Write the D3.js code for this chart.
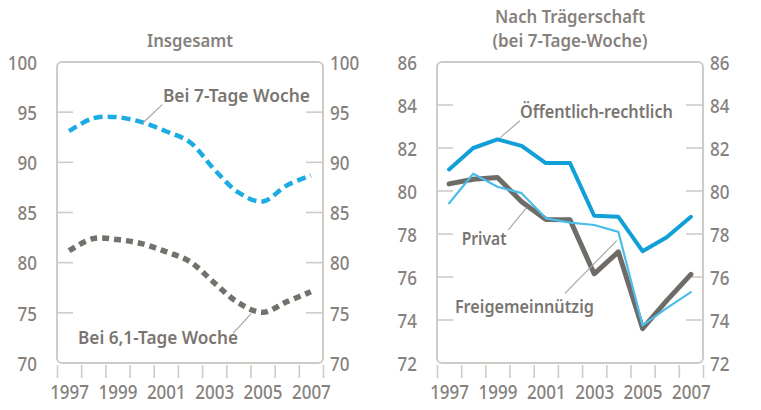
<!DOCTYPE html>
<html>
<head>
<meta charset="utf-8">
<script src="https://cdn.jsdelivr.net/npm/d3@7"></script>
<style>
  html, body { margin: 0; padding: 0; background: #fff; }
  svg { display: block; }
  text { font-family: "Noto Sans", "Open Sans", "DejaVu Sans", sans-serif; }
</style>
</head>
<body>
<svg id="chart" width="761" height="410"></svg>
<script>
// Years on the x axis
const years = [1997, 1998, 1999, 2000, 2001, 2002, 2003, 2004, 2005, 2006, 2007];
const yearLabels = [1997, 1999, 2001, 2003, 2005, 2007];

// Left panel: overall, two assumptions on working week
const totalSevenDay = [93.1, 94.4, 94.5, 94.0, 93.1, 92.0, 89.3, 87.0, 86.1, 87.7, 88.7];
const totalSixDay   = [81.2, 82.4, 82.3, 81.9, 81.1, 80.1, 78.0, 76.0, 75.05, 76.1, 77.1];
const leftTicks = [70, 75, 80, 85, 90, 95, 100];

// Right panel: by ownership (7-day week)
const publicOwned  = [81.0, 82.0, 82.4, 82.1, 81.3, 81.3, 78.85, 78.8, 77.2, 77.85, 78.8];
const privateOwned = [80.33, 80.55, 80.63, 79.5, 78.68, 78.66, 76.15, 77.17, 73.6, 74.9, 76.12];
const nonProfit    = [79.43, 80.8, 80.2, 79.9, 78.73, 78.53, 78.42, 78.1, 73.75, 74.55, 75.3];
const rightTicks = [72, 74, 76, 78, 80, 82, 84, 86];

const svg = d3.select("#chart");

const grey = "#86817d";
const frameGrey = "#cfcbc7";
const labelGrey = "#7a7571";
const squeeze = "scale(0.85,1)";   // narrow the tick numerals

const plotTop = 62, plotBottom = 363;

function panel(opts) {
  const g = svg.append("g");
  const x = d3.scaleLinear().domain([1996.5, 2007.5]).range([opts.left, opts.right]);
  const y = d3.scaleLinear().domain(opts.domain).range([plotBottom, plotTop]);

  // rounded frame
  g.append("rect")
    .attr("x", opts.left).attr("y", plotTop)
    .attr("width", opts.right - opts.left).attr("height", plotBottom - plotTop)
    .attr("rx", 5).attr("ry", 5)
    .attr("fill", "none").attr("stroke", frameGrey).attr("stroke-width", 2);

  // inner tick marks at both edges
  const inner = opts.ticks.slice(1, -1);
  g.selectAll(".tl").data(inner).join("line")
    .attr("x1", opts.left).attr("x2", opts.left + 16)
    .attr("y1", d => y(d)).attr("y2", d => y(d))
    .attr("stroke", frameGrey).attr("stroke-width", 1.6);
  g.selectAll(".tr").data(inner).join("line")
    .attr("x1", opts.right - 17).attr("x2", opts.right)
    .attr("y1", d => y(d)).attr("y2", d => y(d))
    .attr("stroke", frameGrey).attr("stroke-width", 1.6);

  // y labels on both sides
  const yl = g.append("g").attr("transform", `translate(${opts.left - 20},0)`)
    .call(d3.axisLeft(y).tickValues(opts.ticks).tickSize(0).tickPadding(0));
  const yr = g.append("g").attr("transform", `translate(${opts.right + 7},0)`)
    .call(d3.axisRight(y).tickValues(opts.ticks).tickSize(0).tickPadding(0));
  [yl, yr].forEach(a => {
    a.select(".domain").remove();
    a.selectAll("text").attr("fill", grey).attr("font-size", 20).attr("font-weight", 500)
      .attr("dy", "0.36em").attr("transform", squeeze);
  });

  // x tick marks at year boundaries
  const bounds = years.map(v => v - 0.5).concat([years[years.length - 1] + 0.5]);
  const xt = g.append("g").attr("transform", `translate(0,${plotBottom + 2})`)
    .call(d3.axisBottom(x).tickValues(bounds).tickSize(13).tickFormat(""));
  xt.select(".domain").remove();
  xt.selectAll("line").attr("stroke", frameGrey).attr("stroke-width", 1.6);

  // year labels
  const xl = g.append("g").attr("transform", `translate(0,${plotBottom + 22})`)
    .call(d3.axisBottom(x).tickValues(yearLabels).tickSize(0).tickPadding(0).tickFormat(d3.format("d")));
  xl.select(".domain").remove();
  xl.selectAll("text").attr("fill", grey).attr("font-size", 20).attr("font-weight", 500)
    .attr("dy", "0.71em").attr("transform", squeeze);

  // title
  const cx = (opts.left + opts.right) / 2;
  opts.title.forEach((line, i) => {
    g.append("text")
      .attr("x", cx).attr("y", opts.titleY + i * 24)
      .attr("text-anchor", "middle")
      .attr("fill", grey).attr("font-size", 17.5).attr("font-weight", 600)
      .attr("textLength", opts.titleWidths[i]).attr("lengthAdjust", "spacingAndGlyphs")
      .text(line);
  });

  return { g, x, y };
}

function series(p, values, style, curve) {
  const line = d3.line()
    .x((d, i) => p.x(years[i]))
    .y(d => p.y(d))
    .curve(curve);
  p.g.append("path")
    .datum(values)
    .attr("d", line)
    .attr("fill", "none")
    .attr("stroke", style.color)
    .attr("stroke-width", style.width)
    .attr("stroke-dasharray", style.dash || null)
    .attr("stroke-linejoin", "round")
    .attr("stroke-linecap", style.dash ? "butt" : "round");
}

function annotate(p, text, width, at, from, to) {
  p.g.append("line")
    .attr("x1", p.x(from[0])).attr("y1", p.y(from[1]))
    .attr("x2", p.x(to[0])).attr("y2", p.y(to[1]))
    .attr("stroke", "#aaa6a2").attr("stroke-width", 1.2);
  p.g.append("text")
    .attr("x", p.x(at[0])).attr("y", p.y(at[1]))
    .attr("fill", labelGrey).attr("font-size", 18).attr("font-weight", 600)
    .attr("textLength", width).attr("lengthAdjust", "spacingAndGlyphs")
    .text(text);
}

// ---- left panel
const left = panel({ left: 57, right: 323, domain: [70, 100], ticks: leftTicks,
                     title: ["Insgesamt"], titleWidths: [86], titleY: 47 });
series(left, totalSixDay, { color: "#74706b", width: 5.5, dash: "7,5" }, d3.curveCatmullRom.alpha(0.5));
series(left, totalSevenDay, { color: "#1aace3", width: 4.5, dash: "9,5" }, d3.curveCatmullRom.alpha(0.5));
annotate(left, "Bei 7-Tage Woche", 147, [2000.88, 96.0], [2000.85, 95.75], [2000.06, 93.95]);
annotate(left, "Bei 6,1-Tage Woche", 160, [1997.37, 71.9], [2003.78, 72.95], [2004.52, 74.9]);

// ---- right panel
const right = panel({ left: 437, right: 703, domain: [72, 86], ticks: rightTicks,
                      title: ["Nach Trägerschaft", "(bei 7-Tage-Woche)"], titleWidths: [150, 155], titleY: 23 });
series(right, privateOwned, { color: "#6f6b67", width: 5 }, d3.curveLinear);
series(right, nonProfit, { color: "#4cbde9", width: 2.2 }, d3.curveLinear);
series(right, publicOwned, { color: "#119fd8", width: 4 }, d3.curveLinear);
annotate(right, "Öffentlich-rechtlich", 153, [1999.93, 83.4], [1999.93, 83.27], [1999.1, 82.47]);
annotate(right, "Privat", 45, [1997.52, 77.49], [1999.45, 78.19], [2000.21, 79.24]);
annotate(right, "Freigemeinnützig", 139, [1997.24, 74.33], [2001.79, 75.24], [2003.93, 77.69]);
</script>
</body>
</html>
